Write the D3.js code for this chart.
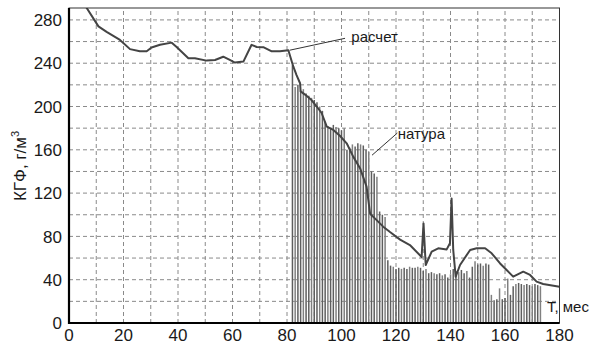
<!DOCTYPE html>
<html><head><meta charset="utf-8">
<script src="https://cdn.jsdelivr.net/npm/d3@7"></script>
<style>body{margin:0;background:#fff}svg{display:block}</style>
</head><body>
<svg id="c" width="591" height="347"></svg>
<script>
// calculated curve ("расчет"): month, value
const calcT = [4,6.5,10.8,13.8,18.7,22.4,26,28.5,30.3,33.4,37.7,39.5,43.8,46.2,50.5,53.6,56.6,59,60.9,64,67,68.9,71.3,74.4,77.4,80.5,82.3,83.5,84.8,85,86.6,89,90.9,92.7,94.6,97,99.4,101.9,104.3,106.8,109.2,110.5,112.9,115.3,117.8,121.5,125.1,129.4,130.1,130.9,133.1,135.5,138.6,139.8,140.4,141,141.9,143.5,147.2,149.6,152.7,155.1,158.2,160.6,163,166.7,169.2,171.6,174,180];
const calcV = [300,291,274,269,261.5,253,251,251,254.5,257,259,255,244.6,244.6,242.4,243,246,243,240.6,241.5,257,255,254.8,251,251,252,237,229,221.5,214,211,206,200,194,181.4,178.4,173,166,153.7,143,126,101,95,89,84,77,72,61,92,53.6,66,69,68,73.7,115,67.5,42.8,53.6,67.5,69,69,64.4,55,49,42.8,47.4,44.4,38.2,36,33.5];
// field data ("натура"): monthly bars
const obsT = [82,83,84,85,86,87,88,89,90,91,92,93,94,95,96,97,98,99,100,101,102,103,104,105,106,107,108,109,110,111,112,113,114,115,116,117,118,119,120,121,122,123,124,125,126,127,128,129,130,131,132,133,134,135,136,137,138,139,140,141,142,143,144,145,146,147,148,149,150,151,152,153,154,155,156,157,158,159,160,161,162,163,164,165,166,167,168,169,170,171,172,173];
const obsV = [238,218,220,215,216,212,210,208,206,204,200,196,186,182,180,183,181,180,178,180,160,162,165,163,166,165,164,160,158,140,138,135,103,100,98,58,53,52,50,51,50,51,50,52,51,51,52,51,48,50,46,47,46,45,46,44,45,42,45,50,48,47,49,46,48,42,52,57,54,55,53,55,54,26,21,22,32,22,23,41,26,34,36,37,36,35,36,35,34,36,35,34];
const xTicks = [0,20,40,60,80,100,120,140,160,180];
const yTicks = [0,40,80,120,160,200,240,280];
const xGrid = [10,20,30,40,50,60,70,80,90,100,110,120,130,140,150,160,170];
const yGrid = [20,40,60,80,100,120,140,160,180,200,220,240,260,280];

const svg = d3.select("#c");
const x = d3.scaleLinear().domain([0,180]).range([69,559.5]);
const y = d3.scaleLinear().domain([0,291]).range([323,8]);
const font = "'Liberation Sans', Arial, sans-serif";

svg.append("defs").append("clipPath").attr("id","pc").append("rect")
  .attr("x",x(0)).attr("y",y(291)).attr("width",x(180)-x(0)).attr("height",y(0)-y(291));

// grid
svg.append("g").selectAll("line").data(yGrid).join("line")
  .attr("x1",x(0)).attr("x2",x(180)).attr("y1",d=>y(d)).attr("y2",d=>y(d))
  .attr("stroke","#8a8a8a").attr("stroke-width",1).attr("stroke-dasharray","4,3");
svg.append("g").selectAll("line").data(xGrid).join("line")
  .attr("y1",y(0)).attr("y2",y(291)).attr("x1",d=>x(d)).attr("x2",d=>x(d))
  .attr("stroke","#8a8a8a").attr("stroke-width",1).attr("stroke-dasharray","4,3");

// bars
svg.append("g").selectAll("line").data(obsT).join("line")
  .attr("x1",d=>x(d)).attr("x2",d=>x(d))
  .attr("y1",y(0)).attr("y2",(d,i)=>y(obsV[i]))
  .attr("stroke",(d,i)=> i%3===1 ? "#808080" : "#5e5e5e").attr("stroke-width",1.5);

// calc line
svg.append("path").datum(calcT.map((t,i)=>[t,calcV[i]]))
  .attr("clip-path","url(#pc)")
  .attr("d",d3.line().x(d=>x(d[0])).y(d=>y(d[1])))
  .attr("fill","none").attr("stroke","#444").attr("stroke-width",2).attr("stroke-linejoin","round");

// frame
svg.append("rect").attr("x",x(0)).attr("y",y(291)).attr("width",x(180)-x(0)).attr("height",y(0)-y(291))
  .attr("fill","none").attr("stroke","#333").attr("stroke-width",1);
svg.append("line").attr("x1",x(0)).attr("x2",x(0)).attr("y1",y(291)).attr("y2",y(0)+1)
  .attr("stroke","#000").attr("stroke-width",2.2);
svg.append("line").attr("x1",x(0)-1).attr("x2",x(180)).attr("y1",y(0)).attr("y2",y(0))
  .attr("stroke","#000").attr("stroke-width",2.2);

// tick labels
svg.append("g").selectAll("text").data(yTicks).join("text")
  .attr("x",62).attr("y",d=>y(d)).attr("dy","0.36em").attr("text-anchor","end")
  .attr("font-family",font).attr("font-size",17).attr("fill","#1a1a1a").text(d=>d);
svg.append("g").selectAll("text").data(xTicks).join("text")
  .attr("x",d=>x(d)).attr("y",341).attr("text-anchor","middle")
  .attr("font-family",font).attr("font-size",17).attr("fill","#1a1a1a").text(d=>d);

// axis titles
const yt = svg.append("text").attr("transform","translate(26,166) rotate(-90)")
  .attr("text-anchor","middle").attr("font-family",font).attr("font-size",17).attr("fill","#1a1a1a");
yt.append("tspan").text("КГФ, г/м");
yt.append("tspan").attr("font-size",11).attr("dy",-7).text("3");
svg.append("text").attr("x",x(175.4)).attr("y",y(10.2)).attr("font-family",font).attr("font-size",15)
  .attr("fill","#1a1a1a").text("Т, мес");

// annotations
svg.append("line").attr("x1",x(81)).attr("y1",y(252)).attr("x2",x(101.3)).attr("y2",y(263))
  .attr("stroke","#333").attr("stroke-width",1);
svg.append("text").attr("x",x(103.6)).attr("y",y(259.5)).attr("font-family",font).attr("font-size",15)
  .attr("fill","#1a1a1a").text("расчет");
svg.append("line").attr("x1",x(111.2)).attr("y1",y(155)).attr("x2",x(120.5)).attr("y2",y(175.5))
  .attr("stroke","#333").attr("stroke-width",1);
svg.append("text").attr("x",x(120.6)).attr("y",y(170)).attr("font-family",font).attr("font-size",15)
  .attr("fill","#1a1a1a").text("натура");
</script>
</body></html>
